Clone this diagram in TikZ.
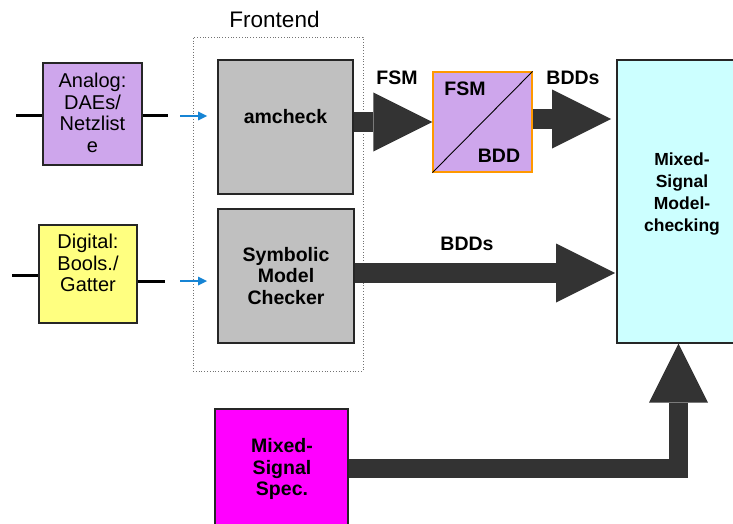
\documentclass[tikz,border=0pt]{standalone}
\usepackage{fontspec}
\setmainfont{Liberation Sans}
\usetikzlibrary{arrows.meta,calc}

\definecolor{lav}{RGB}{206,166,236}
\definecolor{lightyellow}{RGB}{255,255,128}
\definecolor{boxgray}{RGB}{192,192,192}
\definecolor{paleCyan}{RGB}{204,255,255}
\definecolor{brightmag}{RGB}{255,0,255}
\definecolor{darkarrow}{RGB}{51,51,51}
\definecolor{flowblue}{RGB}{22,132,212}
\definecolor{bordorange}{RGB}{255,153,0}

\tikzset{
  blk/.style={draw=black!85, line width=1.2pt, inner sep=0pt},
  boldtxt/.style={font=\fontsize{19.5}{21.5}\selectfont\bfseries, align=center, inner sep=0pt},
  regtxt/.style={font=\fontsize{20}{21.5}\selectfont, align=center, inner sep=0pt},
  fatarrow/.style={draw=darkarrow, line width=19.5pt, line join=miter,
    -{Triangle[length=59pt,width=59pt,line width=0pt]}},
  thinarrow/.style={draw=flowblue, line width=2.4pt,
    -{Triangle[length=9pt,width=9pt,line width=0pt]}},
  wire/.style={draw=black, line width=3pt},
}

\begin{document}
\begin{tikzpicture}[x=1pt,y=-1pt]
\useasboundingbox (0,0) rectangle (733,524);

% frontend frame
\node[draw=black!55, dotted, line width=0.8pt, minimum width=170, minimum height=334, inner sep=0pt]
  (frontend) at (278,204) {};
\node[font=\fontsize{22.5}{26}\selectfont, anchor=base] (fronttitle) at (274.5,28) {Frontend};

% input blocks
\node[blk, fill=lav, minimum width=99, minimum height=102] (analog) at (92.5,114) {};
\node[regtxt] (analogtxt) at (92.5,113) {Analog:\\DAEs/\\Netzlist\\e};
\node[blk, fill=lightyellow, minimum width=98, minimum height=98] (digital) at (88,274) {};
\node[regtxt] (digitaltxt) at (88,263) {Digital:\\Bools./\\Gatter};

% frontend tools
\node[blk, fill=boxgray, minimum width=135, minimum height=134] (amcheck) at (285.5,127) {};
\node[boldtxt] (amchecktxt) at (285.5,117) {amcheck};
\node[blk, fill=boxgray, minimum width=136, minimum height=134] (symb) at (286,276) {};
\node[boldtxt] (symbtxt) at (286,276) {Symbolic\\Model\\Checker};

% FSM / BDD conversion
\node[draw=bordorange, fill=lav, line width=1.2pt, minimum width=99, minimum height=100, inner sep=0pt]
  (fsmb) at (482.5,122) {};
\draw[black, line width=0.9pt] (fsmb.south west) -- (fsmb.north east);
\node[boldtxt, anchor=base] (fsmbtop) at (465,96) {FSM};
\node[boldtxt, anchor=base] (fsmbbot) at (499,162) {BDD};

% model checker and specification
\node[blk, fill=paleCyan, minimum width=118, minimum height=283] (msmc) at (676,201.5) {};
\node[font=\fontsize{17.5}{22.3}\selectfont\bfseries, align=center, inner sep=0pt]
  (msmctxt) at (682,194) {Mixed-\\Signal\\Model-\\checking};
\node[blk, fill=brightmag, minimum width=133, minimum height=121] (spec) at (281.5,469.5) {};
\node[boldtxt] (spectxt) at (282,469) {Mixed-\\Signal\\Spec.};

% wires at the input blocks
\coordinate (aL) at (16,116);
\coordinate (aR) at (168,116);
\coordinate (dL) at (12,275);
\coordinate (dR) at (165,281);
\draw[wire] (aL) -- (aL -| analog.west);
\draw[wire] (aR -| analog.east) -- (aR);
\draw[wire] (dL) -- (dL -| digital.west);
\draw[wire] (dR -| digital.east) -- (dR);

% inputs into the frontend
\coordinate (ba1) at (180,116);
\coordinate (ba2) at (207,116);
\coordinate (bd1) at (180,281);
\coordinate (bd2) at (207,281);
\draw[thinarrow] (ba1) -- (ba2);
\draw[thinarrow] (bd1) -- (bd2);

% data flow
\coordinate (topin) at (611,119);
\coordinate (midin) at (615,273);
\draw[fatarrow] (amcheck.east |- fsmb.west) -- (fsmb.west);
\draw[fatarrow] (fsmb.east |- topin) -- (topin);
\draw[fatarrow] (symb.east |- midin) -- (midin);
\coordinate (corner) at (678.5,468.5);
\draw[fatarrow] (spec.east |- corner) -- (corner) -- (corner |- msmc.south);

% labels on the flow
\node[boldtxt, anchor=base] (lfsm) at (397,85) {FSM};
\node[boldtxt, anchor=base] (lbdd1) at (573,85) {BDDs};
\node[boldtxt, anchor=base] (lbdd2) at (467,250) {BDDs};
\end{tikzpicture}
\end{document}
